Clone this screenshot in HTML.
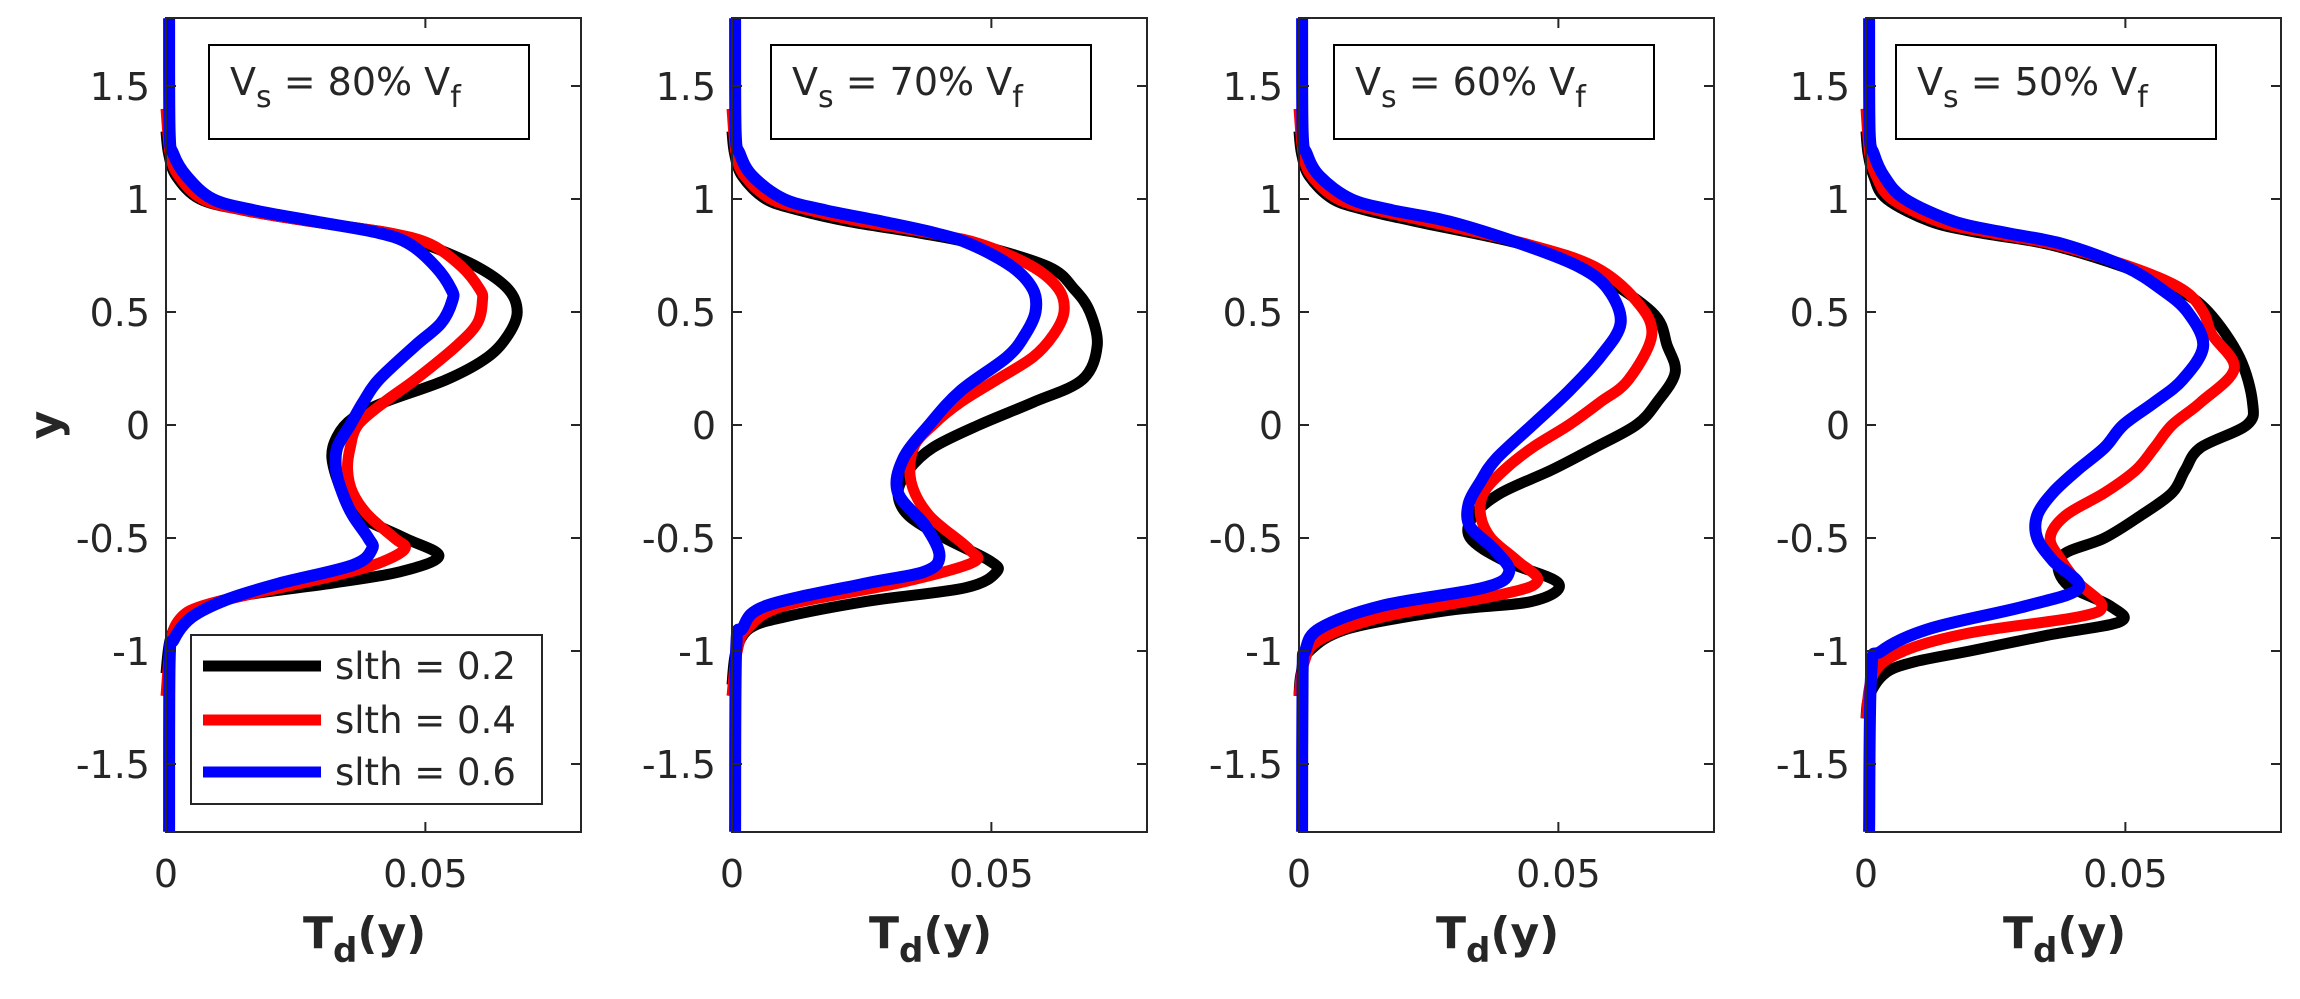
<!DOCTYPE html>
<html><head><meta charset="utf-8"><style>
html,body{margin:0;padding:0;background:#fff;}
svg{display:block;}
text{font-family:"DejaVu Sans","Liberation Sans",sans-serif;fill:#262626;}
</style></head><body>
<svg id="s" width="2300" height="999" xmlns="http://www.w3.org/2000/svg"></svg>
<script>
const NS="http://www.w3.org/2000/svg";
const svg=document.getElementById('s');
function el(t,a,txt){const e=document.createElementNS(NS,t);for(const k in a)e.setAttribute(k,a[k]);if(txt!==undefined)e.textContent=txt;svg.appendChild(e);return e;}
const lefts=[166,732,1299,1866], W=415, TOP=18, BOT=832;
const boxOff=[43,39,35,30], titles=['80','70','60','50'];
function X(l,v){return l+v/0.08*W;}
function Y(v){return 425-v*226;}
const topK=[[1.3,0],[1.2,0.0005],[1.1,0.002],[1.0,0.0065],[0.95,0.013],[0.9,0.0226]];
const topR=[[1.4,0],[1.2,0.0008],[1.1,0.0025],[1.0,0.0075],[0.95,0.015],[0.9,0.025]];
const topB=[[1.8,0.0006],[1.3,0.0007],[1.2,0.0015],[1.1,0.004],[1.0,0.01],[0.95,0.018],[0.9,0.029]];
const botB=[[-1.8,0.0006]];
const data=[
{K:[[1.3,0],[1.2,0.0005],[1.1,0.002],[1.0,0.0065],[0.95,0.015],[0.9,0.028],[0.85,0.043],[0.8,0.05],[0.7,0.06],[0.6,0.066],[0.5,0.0677],[0.4,0.066],[0.3,0.062],[0.2,0.054],[0.1,0.042],[0.03,0.036],[-0.05,0.033],[-0.15,0.032],[-0.3,0.034],[-0.4,0.037],[-0.5,0.046],[-0.58,0.0526],[-0.65,0.045],[-0.7,0.032],[-0.75,0.016],[-0.8,0.0073],[-0.85,0.003],[-0.95,0.0008],[-1.1,0]],
 R:[[1.4,0],[1.2,0.0008],[1.1,0.0025],[1.0,0.007],[0.95,0.015],[0.9,0.028],[0.85,0.043],[0.8,0.051],[0.7,0.057],[0.6,0.0605],[0.55,0.061],[0.45,0.060],[0.35,0.056],[0.2,0.048],[0.1,0.042],[0,0.037],[-0.1,0.0355],[-0.2,0.035],[-0.3,0.036],[-0.4,0.039],[-0.5,0.044],[-0.55,0.046],[-0.62,0.040],[-0.68,0.030],[-0.75,0.016],[-0.8,0.007],[-0.85,0.003],[-0.95,0.001],[-1.2,0]],
 B:[[1.8,0.0006],[1.3,0.0007],[1.2,0.0014],[1.1,0.004],[1.0,0.009],[0.95,0.017],[0.9,0.029],[0.85,0.041],[0.8,0.047],[0.7,0.052],[0.6,0.055],[0.55,0.0552],[0.45,0.053],[0.35,0.048],[0.2,0.041],[0.1,0.038],[0,0.0355],[-0.1,0.033],[-0.2,0.0328],[-0.3,0.034],[-0.4,0.036],[-0.5,0.039],[-0.55,0.0397],[-0.62,0.036],[-0.7,0.022],[-0.77,0.012],[-0.85,0.005],[-0.95,0.0015],[-1.05,0.0007],[-1.8,0.0006]]},
{K:topK.concat([[0.85,0.036],[0.8,0.047],[0.7,0.061],[0.6,0.066],[0.5,0.069],[0.35,0.0704],[0.2,0.0675],[0.1,0.058],[0,0.0476],[-0.1,0.0387],[-0.2,0.034],[-0.3,0.032],[-0.4,0.034],[-0.5,0.041],[-0.6,0.0496],[-0.65,0.051],[-0.72,0.045],[-0.78,0.026],[-0.85,0.01],[-0.9,0.0034],[-1.0,0.0008],[-1.15,0]]),
 R:topR.concat([[0.85,0.038],[0.8,0.048],[0.7,0.058],[0.6,0.063],[0.5,0.064],[0.4,0.062],[0.3,0.058],[0.2,0.051],[0.1,0.044],[0,0.0387],[-0.1,0.035],[-0.25,0.0345],[-0.4,0.038],[-0.55,0.0457],[-0.61,0.0462],[-0.7,0.032],[-0.8,0.01],[-0.9,0.003],[-1.0,0.001],[-1.2,0]]),
 B:topB.concat([[0.85,0.039],[0.8,0.046],[0.7,0.054],[0.6,0.058],[0.5,0.0585],[0.4,0.0565],[0.3,0.053],[0.15,0.044],[0,0.038],[-0.15,0.033],[-0.3,0.032],[-0.45,0.0374],[-0.58,0.040],[-0.65,0.037],[-0.7,0.026],[-0.8,0.0066],[-0.9,0.002],[-1.0,0.0008]],botB)},
{K:topK.concat([[0.8,0.043],[0.7,0.055],[0.5,0.068],[0.35,0.071],[0.23,0.0725],[0.1,0.069],[0,0.065],[-0.1,0.057],[-0.2,0.0486],[-0.3,0.039],[-0.4,0.0337],[-0.5,0.033],[-0.6,0.0395],[-0.7,0.05],[-0.78,0.045],[-0.82,0.029],[-0.9,0.0097],[-1.0,0.002],[-1.1,0.0004],[-1.2,0]]),
 R:topR.concat([[0.8,0.044],[0.7,0.057],[0.55,0.065],[0.4,0.068],[0.2,0.0635],[0.1,0.058],[0,0.052],[-0.1,0.045],[-0.2,0.0395],[-0.3,0.0356],[-0.4,0.035],[-0.5,0.037],[-0.6,0.042],[-0.69,0.046],[-0.75,0.039],[-0.85,0.016],[-0.95,0.004],[-1.05,0.001],[-1.2,0]]),
 B:topB.concat([[0.8,0.043],[0.7,0.054],[0.6,0.0596],[0.45,0.062],[0.3,0.058],[0.15,0.052],[0,0.045],[-0.15,0.038],[-0.25,0.035],[-0.35,0.0327],[-0.45,0.033],[-0.55,0.0376],[-0.65,0.0405],[-0.72,0.0356],[-0.8,0.016],[-0.9,0.004],[-1.0,0.0012],[-1.1,0.0007]],botB)},
{K:[[1.3,0],[1.2,0.0004],[1.1,0.0015],[1.0,0.004],[0.9,0.0125],[0.85,0.022],[0.8,0.035],[0.7,0.0496],[0.6,0.06],[0.5,0.066],[0.3,0.072],[0.1,0.0745],[0,0.0734],[-0.1,0.0645],[-0.2,0.0615],[-0.3,0.059],[-0.4,0.053],[-0.5,0.046],[-0.58,0.0377],[-0.7,0.0385],[-0.8,0.047],[-0.87,0.049],[-0.93,0.035],[-1.0,0.02],[-1.05,0.009],[-1.1,0.0036],[-1.2,0.0006],[-1.3,0]],
 R:[[1.4,0],[1.2,0.0007],[1.1,0.002],[1.0,0.005],[0.9,0.014],[0.85,0.024],[0.8,0.036],[0.7,0.051],[0.6,0.061],[0.5,0.065],[0.4,0.0667],[0.25,0.071],[0.1,0.0645],[0,0.059],[-0.1,0.0556],[-0.2,0.052],[-0.3,0.046],[-0.4,0.0385],[-0.5,0.0355],[-0.6,0.0377],[-0.7,0.041],[-0.8,0.0455],[-0.85,0.0407],[-0.92,0.02],[-1.0,0.0073],[-1.1,0.0015],[-1.3,0]],
 B:[[1.8,0.0006],[1.3,0.0007],[1.2,0.0015],[1.1,0.0035],[1.0,0.0075],[0.9,0.017],[0.85,0.027],[0.8,0.038],[0.7,0.05],[0.6,0.057],[0.5,0.062],[0.35,0.065],[0.2,0.061],[0.1,0.0556],[0,0.0496],[-0.1,0.046],[-0.2,0.0407],[-0.3,0.036],[-0.4,0.033],[-0.5,0.033],[-0.6,0.036],[-0.72,0.041],[-0.8,0.031],[-0.9,0.0125],[-1.0,0.003],[-1.1,0.001],[-1.8,0.0006]]}
];
function path(l,pts){
  const P=pts.map(p=>[X(l,p[1]),Y(p[0])]);
  let d='M'+P[0][0].toFixed(1)+','+P[0][1].toFixed(1);
  for(let i=0;i<P.length-1;i++){
    const p0=P[Math.max(0,i-1)],p1=P[i],p2=P[i+1],p3=P[Math.min(P.length-1,i+2)];
    const c1=[p1[0]+(p2[0]-p0[0])/6,p1[1]+(p2[1]-p0[1])/6];
    const c2=[p2[0]-(p3[0]-p1[0])/6,p2[1]-(p3[1]-p1[1])/6];
    d+=' C'+c1.map(v=>v.toFixed(1))+' '+c2.map(v=>v.toFixed(1))+' '+p2.map(v=>v.toFixed(1));
  }
  return d;
}
const defs=el('defs',{});
lefts.forEach((l,i)=>{
  const cp=document.createElementNS(NS,'clipPath');cp.setAttribute('id','c'+i);
  const r=document.createElementNS(NS,'rect');r.setAttribute('x',l-8);r.setAttribute('y',TOP);r.setAttribute('width',W+8);r.setAttribute('height',BOT-TOP);
  cp.appendChild(r);defs.appendChild(cp);
  const g=el('g',{'clip-path':'url(#c'+i+')'});
  [['K','#000'],['R','#ff0000'],['B','#0000ff']].forEach(([k,c])=>{
    const p=document.createElementNS(NS,'path');
    p.setAttribute('d',path(l,data[i][k]));p.setAttribute('fill','none');p.setAttribute('stroke',c);
    p.setAttribute('stroke-width',k=='B'?12:11);p.setAttribute('stroke-linejoin','round');
    g.appendChild(p);
  });
  el('rect',{x:l,y:TOP,width:W,height:BOT-TOP,fill:'none',stroke:'#262626','stroke-width':2});
  [-1.5,-1,-0.5,0,0.5,1,1.5].forEach(v=>{
    const y=Y(v);
    el('line',{x1:l,x2:l+10,y1:y,y2:y,stroke:'#262626','stroke-width':2});
    el('line',{x1:l+W-10,x2:l+W,y1:y,y2:y,stroke:'#262626','stroke-width':2});
    el('text',{x:l-16,y:y+14,'text-anchor':'end','font-size':38},String(v));
  });
  [0,0.05].forEach(v=>{
    const x=X(l,v);
    el('line',{x1:x,x2:x,y1:BOT,y2:BOT-10,stroke:'#262626','stroke-width':2});
    el('line',{x1:x,x2:x,y1:TOP,y2:TOP+10,stroke:'#262626','stroke-width':2});
    el('text',{x:x,y:887,'text-anchor':'middle','font-size':38},v==0?'0':'0.05');
  });
  const bx=l+boxOff[i];
  el('rect',{x:bx,y:45,width:320,height:94,fill:'#fff',stroke:'#000','stroke-width':2});
  const t=el('text',{x:bx+21,y:95,'font-size':38,fill:'#000'});
  t.innerHTML='V<tspan dy="12" font-size="30">s</tspan><tspan dy="-12"> = '+titles[i]+'% V</tspan><tspan dy="12" font-size="30">f</tspan>';
  const xl=el('text',{x:l+137,y:948,'font-size':44,'font-weight':'bold',fill:'#262626'});
  xl.innerHTML='T<tspan dy="14" font-size="34">d</tspan><tspan dy="-14">(y)</tspan>';
});
el('text',{x:0,y:0,'font-size':44,'font-weight':'bold','text-anchor':'middle',transform:'translate(60,425) rotate(-90)'},'y');
el('rect',{x:191,y:635,width:351,height:169,fill:'#fff',stroke:'#262626','stroke-width':2});
[['#000','0.2',666],['#ff0000','0.4',720],['#0000ff','0.6',772]].forEach(([c,v,y])=>{
  el('line',{x1:203,x2:321,y1:y,y2:y,stroke:c,'stroke-width':11});
  el('text',{x:335,y:y+13,'font-size':37,fill:'#000'},'slth = '+v);
});
</script>
</body></html>
